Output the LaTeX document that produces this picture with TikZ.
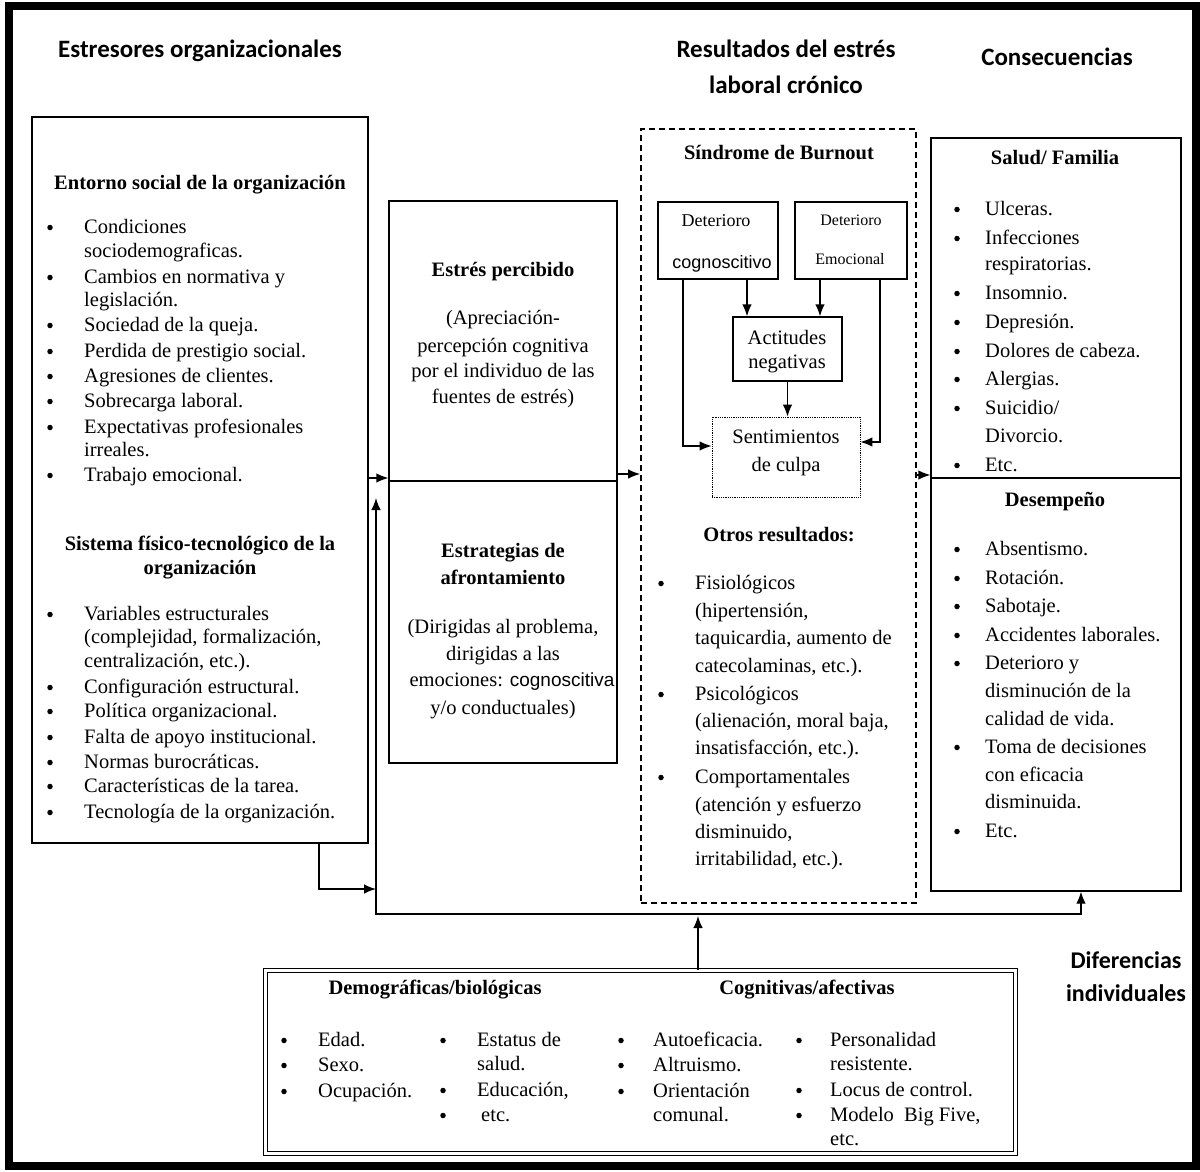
\documentclass[tikz,border=0pt]{standalone}
\usepackage{fontspec}
\setmainfont{Liberation Serif}
\newfontfamily\hdfont{Carlito}
\newfontfamily\arfont{Liberation Sans}
\usetikzlibrary{arrows.meta}

\newcommand\blist[4]{% #1 bullet x, #2 text x, #3 prefix, #4 list
  \foreach \yy/\bq/\tx [count=\i] in {#4} {
    \ifnum\bq=1\relax \node[bul] (#3b\i) at (#1,\yy+0.5) {};\fi
    \node[txt] (#3t\i) at (#2,\yy+6) {\tx};
  }}

\begin{document}
\begin{tikzpicture}[x=1pt,y=-1pt,
  txt/.style={anchor=base west, inner sep=0, font=\fontsize{20.5}{24}\selectfont},
  ctr/.style={anchor=base, inner sep=0, font=\fontsize{20.5}{24}\selectfont},
  bctr/.style={anchor=base, inner sep=0, font=\fontsize{20.5}{24}\selectfont\bfseries},
  hd/.style={anchor=base, inner sep=0, font=\fontsize{25}{28}\selectfont\hdfont\bfseries},
  bul/.style={circle, fill, inner sep=0, minimum size=5.5pt},
  box/.style={draw, line width=1.3pt, inner sep=0},
  tip/.tip={Latex[length=12pt,width=9.5pt]},
  arr/.style={line width=1.3pt, -tip},
  ln/.style={line width=1.3pt},
]
\useasboundingbox (0,0) rectangle (1200,1172);
\fill[white] (0,0) rectangle (1200,1172);
\draw[line width=8pt] (9,6) rectangle (1196,1166);

% headings
\node[hd] (h1) at (200,58) {Estresores organizacionales};
\node[hd] (h2) at (786,58) {Resultados del estrés};
\node[hd] (h3) at (786,93) {laboral crónico};
\node[hd] (h4) at (1057,66) {Consecuencias};
\node[hd, font=\fontsize{24}{28}\selectfont\hdfont\bfseries] (h5) at (1126,968) {Diferencias};
\node[hd, font=\fontsize{24}{28}\selectfont\hdfont\bfseries] (h6) at (1126,1001) {individuales};

% boxes
\node[box, minimum width=336pt, minimum height=726pt] (lb) at (200,480) {};
\node[box, minimum width=228pt, minimum height=280pt] (mt) at (503,341) {};
\node[box, minimum width=228pt, minimum height=282pt] (mb) at (503,622) {};
\node[draw, line width=1.8pt, dash pattern=on 6pt off 4pt, inner sep=0,
      minimum width=275pt, minimum height=774pt] (db) at (778.5,516) {};
\node[box, minimum width=120pt, minimum height=77pt] (dc) at (718,240.5) {};
\node[box, minimum width=112pt, minimum height=77pt] (de) at (851,240.5) {};
\node[box, minimum width=109pt, minimum height=64pt] (an) at (787.5,349) {};
\node[draw, densely dotted, line width=0.8pt, inner sep=0,
      minimum width=148pt, minimum height=80pt] (sc) at (786,457) {};
\node[box, minimum width=250pt, minimum height=340pt] (rt) at (1056,308) {};
\node[box, minimum width=250pt, minimum height=413pt] (rb) at (1056,684.5) {};
\node[draw, double, double distance=3pt, line width=1pt, inner sep=0,
      minimum width=750pt, minimum height=183pt] (bb) at (640,1062) {};

% left box
\node[bctr] (l1) at (200,189) {Entorno social de la organización};
\blist{50}{84}{la}{227/1/Condiciones, 251/0/sociodemograficas., 277/1/Cambios en normativa y,
  300/0/legislación., 325/1/Sociedad de la queja., 351/1/Perdida de prestigio social.,
  376/1/Agresiones de clientes., 401/1/Sobrecarga laboral., 427/1/Expectativas profesionales,
  450/0/irreales., 475/1/Trabajo emocional.}
\node[bctr] (l2) at (200,550) {Sistema físico-tecnológico de la};
\node[bctr] (l3) at (200,574) {organización};
\blist{50}{84}{lc}{614/1/Variables estructurales, 637/0/{(complejidad, formalización,},
  661/0/{centralización, etc.).}, 687/1/Configuración estructural., 711/1/Política organizacional.,
  737/1/Falta de apoyo institucional., 762/1/Normas burocráticas.,
  786/1/Características de la tarea., 812/1/Tecnología de la organización.}

% middle boxes
\node[bctr] (m1) at (503,276) {Estrés percibido};
\node[ctr] (m2) at (503,324) {(Apreciación-};
\node[ctr] (m3) at (503,352) {percepción cognitiva};
\node[ctr] (m4) at (503,377) {por el individuo de las};
\node[ctr] (m5) at (503,403) {fuentes de estrés)};
\node[bctr] (m6) at (503,557) {Estrategias de};
\node[bctr] (m7) at (503,584) {afrontamiento};
\node[ctr] (m8) at (503,633) {(Dirigidas al problema,};
\node[ctr] (m9) at (503,660) {dirigidas a las};
\node[ctr] (m10) at (512,686) {emociones: {\arfont\fontsize{19}{24}\selectfont cognoscitiva}};
\node[ctr] (m11) at (503,714) {y/o conductuales)};

% burnout
\node[bctr] (b1) at (779,159) {Síndrome de Burnout};
\node[ctr, font=\fontsize{18}{22}\selectfont] (b2) at (716,226) {Deterioro};
\node[ctr, font=\fontsize{18}{22}\selectfont\arfont] (b3) at (722,268) {cognoscitivo};
\node[ctr, font=\fontsize{16}{20}\selectfont] (b4) at (851,225) {Deterioro};
\node[ctr, font=\fontsize{16}{20}\selectfont] (b5) at (850,264) {Emocional};
\node[ctr] (b6) at (787,344) {Actitudes};
\node[ctr] (b7) at (787,368) {negativas};
\node[ctr] (b8) at (786,443) {Sentimientos};
\node[ctr] (b9) at (786,471) {de culpa};
\node[bctr] (b10) at (779,541) {Otros resultados:};
\blist{661}{695}{oa}{583/1/Fisiológicos, 611/0/{(hipertensión,}, 638/0/{taquicardia, aumento de},
  666/0/{catecolaminas, etc.).}, 694/1/Psicológicos, 721/0/{(alienación, moral baja,},
  748/0/{insatisfacción, etc.).}, 777/1/Comportamentales, 805/0/(atención y esfuerzo,
  832/0/{disminuido,}, 859/0/{irritabilidad, etc.).}}

% right boxes
\node[bctr] (r1) at (1055,164) {Salud/ Familia};
\blist{957}{985}{ra}{209/1/Ulceras., 238/1/Infecciones, 264/0/respiratorias., 293/1/Insomnio.,
  322/1/Depresión., 351/1/Dolores de cabeza., 379/1/Alergias., 408/1/{Suicidio/},
  436/0/Divorcio., 465/1/Etc.}
\node[bctr] (r2) at (1055,506) {Desempeño};
\blist{957}{985}{rc}{549/1/Absentismo., 578/1/Rotación., 606/1/Sabotaje., 635/1/Accidentes laborales.,
  663/1/Deterioro y, 691/0/disminución de la, 719/0/calidad de vida., 747/1/Toma de decisiones,
  775/0/con eficacia, 802/0/disminuida., 831/1/Etc.}

% bottom box
\node[bctr] (d1) at (435,994) {Demográficas/biológicas};
\node[bctr] (d2) at (807,994) {Cognitivas/afectivas};
\blist{284}{318}{da}{1040/1/Edad., 1065/1/Sexo., 1091/1/Ocupación.}
\blist{443}{477}{db}{1040/1/Estatus de, 1064/0/salud., 1090/1/{Educación,}, 1115/1/{\hspace{4pt}etc.}}
\blist{621}{653}{dc}{1040/1/Autoeficacia., 1065/1/Altruismo., 1091/1/Orientación, 1115/0/comunal.}
\blist{799}{830}{dd}{1040/1/Personalidad, 1064/0/resistente., 1090/1/Locus de control.,
  1115/1/{Modelo\ \ Big Five,}, 1139/0/etc.}

% connectors
\coordinate (ya) at (0,478);
\coordinate (yb) at (0,474);
\coordinate (yc) at (0,475);
\draw[ln] (mt.south west) -- (mt.south east);
\draw[arr] (lb.east |- ya) -- (mt.west |- ya);
\draw[arr] (mt.east |- yb) -- (db.west |- yb);
\draw[arr] (db.east |- yc) -- (rt.west |- yc);

\coordinate (xa) at (747,0);
\coordinate (xb) at (820,0);
\coordinate (xc) at (683,446);
\coordinate (xd) at (880,442);
\draw[arr] (dc.south -| xa) -- (an.north -| xa);
\draw[arr] (de.south -| xb) -- (an.north -| xb);
\draw[arr] (an.south) -- (an.south |- sc.north);
\draw[arr] (dc.south -| xc) |- (sc.west |- xc);
\draw[arr] (de.south -| xd) |- (sc.east |- xd);

\coordinate (xe) at (319,889);
\coordinate (fe) at (376,889);
\coordinate (ft) at (376,498);
\coordinate (fc) at (376,914);
\coordinate (xf) at (1081,0);
\coordinate (fg) at (698,916);
\draw[arr] (lb.south -| xe) |- (fe);
\draw[ln, tip-tip] (ft) -- (fc) -| (rb.south -| xf);
\draw[arr] (bb.north -| fg) -- (fg);
\end{tikzpicture}
\end{document}
